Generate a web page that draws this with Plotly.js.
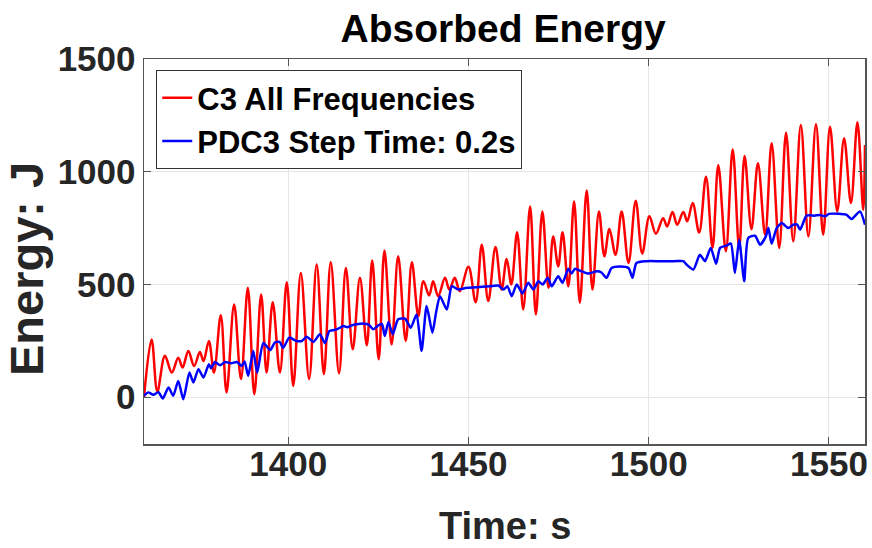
<!DOCTYPE html>
<html><head><meta charset="utf-8">
<script src="https://cdn.plot.ly/plotly-3.0.1.min.js"></script>
<style>html,body{margin:0;padding:0;background:#fff;}</style>
</head><body><div id="chart" style="width:872px;height:548px;"></div>
<script>
const seriesNames = ["C3 All Frequencies", "PDC3 Step Time: 0.2s"];
const xTickVals = [1400, 1450, 1500, 1550];
const yTickVals = [0, 500, 1000, 1500];

const redTime = [1360.0,1362.1,1363.7,1365.8,1367.7,1369.5,1370.7,1372.3,1373.9,1375.5,1376.5,1378.0,1379.4,1381.3,1382.9,1385.0,1386.9,1388.8,1390.6,1392.5,1394.0,1395.7,1397.7,1399.6,1401.4,1403.5,1405.8,1407.9,1409.9,1411.8,1414.1,1416.0,1417.9,1419.9,1421.8,1423.3,1425.1,1426.7,1428.7,1430.5,1432.6,1434.3,1436.1,1437.5,1439.1,1440.2,1441.6,1443.5,1444.7,1446.2,1447.6,1450.0,1452.0,1453.7,1455.5,1457.5,1459.2,1460.6,1461.9,1463.5,1465.2,1467.1,1468.7,1470.5,1472.2,1473.5,1474.9,1476.1,1477.7,1479.3,1480.9,1482.8,1484.4,1486.2,1487.7,1489.1,1490.8,1492.5,1494.4,1496.4,1498.2,1500.2,1502.0,1504.0,1505.1,1506.6,1507.9,1509.6,1510.7,1512.2,1514.0,1515.9,1517.7,1519.3,1521.4,1523.3,1525.1,1526.6,1528.5,1530.3,1532.3,1534.1,1536.2,1538.1,1540.1,1542.2,1544.3,1546.4,1548.4,1550.3,1552.3,1554.2,1556.1,1557.9,1559.5,1560.0];
const redEnergy = [0,256,25,183,109,175,131,205,138,200,160,249,109,363,21,411,80,485,13,455,109,421,109,510,50,551,80,588,102,598,106,573,212,529,230,606,168,650,234,625,249,598,359,514,451,514,448,529,477,529,470,578,421,676,426,666,477,613,500,731,389,846,367,824,485,713,580,731,492,868,419,917,477,824,625,746,632,824,595,871,637,802,725,794,757,821,765,821,780,861,730,978,662,1030,647,1099,660,1070,745,1037,720,1126,662,1173,691,1207,713,1211,721,1199,824,1148,861,1219,831,1118];

const blueTime = [1360.0,1361.2,1362.6,1364.0,1365.2,1366.8,1368.1,1369.5,1370.9,1372.6,1373.7,1375.1,1376.5,1378.0,1378.6,1379.7,1381.1,1382.5,1384.2,1385.8,1387.1,1387.9,1388.9,1390.3,1391.4,1393.1,1395.0,1396.3,1397.6,1398.6,1400.3,1402.3,1403.8,1405.1,1407.0,1408.8,1410.2,1411.4,1412.8,1413.9,1415.3,1416.4,1417.6,1419.0,1420.9,1422.3,1423.6,1425.0,1426.0,1426.8,1427.8,1429.0,1430.5,1432.4,1434.0,1435.6,1437.0,1438.4,1440.0,1441.0,1442.1,1444.0,1445.4,1447.2,1449.5,1452.3,1456.0,1458.3,1459.7,1460.8,1462.0,1463.4,1465.0,1466.6,1468.0,1469.4,1470.6,1472.0,1473.1,1474.9,1476.1,1477.7,1478.6,1479.5,1481.4,1483.2,1485.6,1486.9,1488.3,1489.7,1492.0,1494.4,1495.5,1496.6,1499.4,1503.0,1507.0,1509.6,1510.5,1512.4,1514.2,1515.6,1517.2,1518.7,1519.8,1521.6,1522.8,1523.9,1525.1,1526.5,1527.6,1529.5,1530.9,1532.5,1533.2,1534.1,1535.5,1536.9,1538.7,1540.1,1541.2,1542.0,1543.8,1546.0,1547.5,1548.9,1550.0,1553.0,1554.8,1556.3,1558.6,1560.0];
const blueEnergy = [6,21,10,22,-6,43,6,72,-9,109,65,124,87,146,128,156,141,156,150,156,138,158,94,205,109,240,209,242,245,219,264,249,249,268,245,279,239,293,298,304,315,310,318,323,326,322,301,318,325,271,333,279,345,348,308,367,205,404,286,374,448,389,492,477,485,487,492,495,477,492,448,500,460,507,477,514,500,529,492,536,507,569,548,569,558,548,558,553,529,573,580,573,529,595,603,603,603,603,588,566,632,603,662,592,662,672,681,551,698,514,706,716,676,713,750,681,750,772,750,765,765,743,805,805,808,802,813,813,810,790,824,765];

const FONT = "Liberation Sans, Arial, sans-serif";
const traces = [
  {x: redTime, y: redEnergy, type: 'scatter', mode: 'lines', name: seriesNames[0],
   line: {color: '#ff0000', width: 2.5, shape: 'spline', smoothing: 1}},
  {x: blueTime, y: blueEnergy, type: 'scatter', mode: 'lines', name: seriesNames[1],
   line: {color: '#0000ff', width: 2.5, shape: 'spline', smoothing: 0.6}}
];
const axisCommon = {
  showgrid: true, gridcolor: '#e6e6e6', gridwidth: 1,
  showline: true, linecolor: '#555555', linewidth: 1.5, mirror: 'ticks',
  ticks: 'inside', ticklen: 7, tickcolor: '#555555', zeroline: false,
  tickfont: {family: FONT, size: 35, color: '#262626', weight: 'bold'}
};
const layout = {
  width: 872, height: 548,
  margin: {l: 144, r: 7, t: 59, b: 104},
  paper_bgcolor: '#ffffff', plot_bgcolor: '#ffffff',
  title: {text: 'Absorbed Energy', x: 0.577, xanchor: 'center', y: 0.948, yanchor: 'middle',
          font: {family: FONT, size: 39, color: '#000000', weight: 'bold'}},
  xaxis: Object.assign({}, axisCommon, {range: [1360, 1560], tickvals: xTickVals, ticklabelstandoff: -12}),
  yaxis: Object.assign({}, axisCommon, {range: [-208, 1500], tickvals: yTickVals}),
  annotations: [
    {text: 'Time: s', xref: 'paper', yref: 'paper', x: 0.5, y: -0.212, xanchor: 'center', yanchor: 'middle',
     showarrow: false, font: {family: FONT, size: 38, color: '#262626', weight: 'bold'}},
    {text: 'Energy: J', xref: 'paper', yref: 'paper', x: -0.1637, y: 0.4545, xanchor: 'center', yanchor: 'middle',
     textangle: -90, showarrow: false, font: {family: FONT, size: 47, color: '#262626', weight: 'bold'}}
  ],
  showlegend: true,
  legend: {x: 0.017, y: 0.971, xanchor: 'left', yanchor: 'top', bgcolor: '#ffffff',
           bordercolor: '#333333', borderwidth: 1, itemwidth: 30, tracegroupgap: 0,
           font: {family: FONT, size: 31, color: '#000000', weight: 'bold'}}
};
Plotly.newPlot('chart', traces, layout, {staticPlot: true, displayModeBar: false});
</script>
</body></html>
